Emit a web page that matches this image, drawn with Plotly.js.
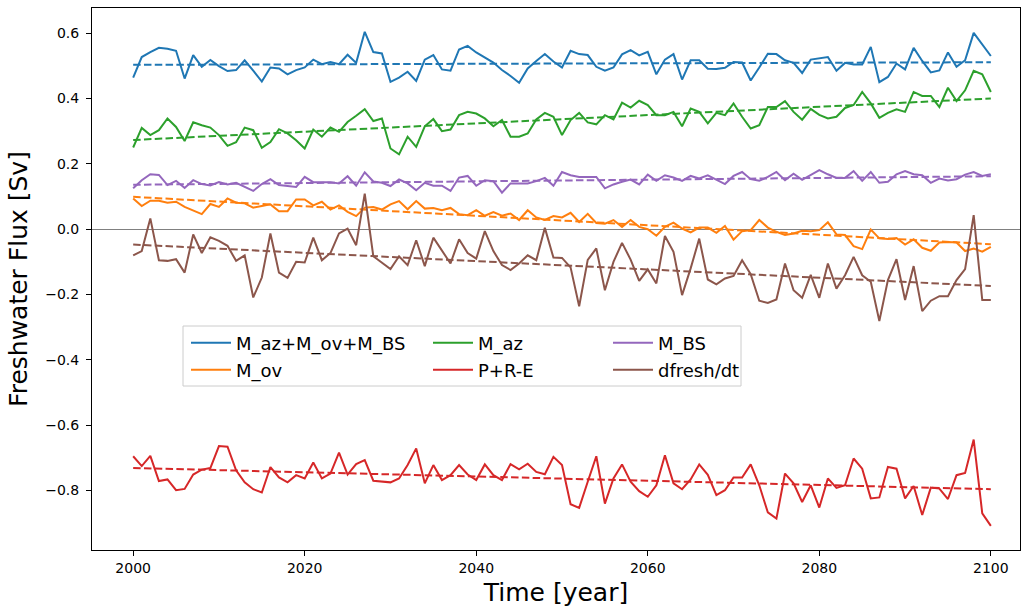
<!DOCTYPE html>
<html>
<head>
<meta charset="utf-8">
<script src="https://cdn.plot.ly/plotly-3.0.1.min.js"></script>
<style>html,body{margin:0;padding:0;background:#fff;}#chart{width:1024px;height:615px;}</style>
</head>
<body>
<div id="chart"></div>
<script>
// ---- data ----
const years = [2000,2001,2002,2003,2004,2005,2006,2007,2008,2009,
2010,2011,2012,2013,2014,2015,2016,2017,2018,2019,
2020,2021,2022,2023,2024,2025,2026,2027,2028,2029,
2030,2031,2032,2033,2034,2035,2036,2037,2038,2039,
2040,2041,2042,2043,2044,2045,2046,2047,2048,2049,
2050,2051,2052,2053,2054,2055,2056,2057,2058,2059,
2060,2061,2062,2063,2064,2065,2066,2067,2068,2069,
2070,2071,2072,2073,2074,2075,2076,2077,2078,2079,
2080,2081,2082,2083,2084,2085,2086,2087,2088,2089,
2090,2091,2092,2093,2094,2095,2096,2097,2098,2099,
2100];

const seriesNames = ["M_az+M_ov+M_BS", "M_ov", "M_az", "P+R-E", "M_BS", "dfresh/dt"];

const totalFlux = [0.464,0.527,0.542,0.555,0.552,0.546,0.461,0.533,0.497,0.518,
0.499,0.484,0.487,0.517,0.485,0.452,0.495,0.492,0.474,0.487,
0.495,0.519,0.505,0.512,0.505,0.534,0.509,0.604,0.542,0.538,
0.451,0.464,0.482,0.454,0.519,0.533,0.489,0.485,0.550,0.561,
0.541,0.526,0.510,0.487,0.469,0.448,0.492,0.515,0.536,0.513,
0.495,0.546,0.536,0.533,0.497,0.485,0.495,0.535,0.548,0.532,
0.543,0.474,0.519,0.536,0.458,0.517,0.517,0.491,0.490,0.494,
0.512,0.510,0.455,0.495,0.537,0.536,0.517,0.509,0.478,0.519,
0.523,0.527,0.485,0.509,0.504,0.504,0.558,0.450,0.466,0.507,
0.489,0.555,0.515,0.480,0.486,0.541,0.497,0.517,0.601,0.566,
0.530];

const mOv = [0.094,0.071,0.087,0.087,0.081,0.084,0.068,0.056,0.046,0.077,
0.068,0.094,0.081,0.079,0.066,0.071,0.076,0.055,0.055,0.091,
0.091,0.073,0.084,0.060,0.073,0.053,0.040,0.066,0.068,0.060,
0.076,0.086,0.061,0.086,0.063,0.065,0.058,0.065,0.046,0.043,
0.058,0.041,0.052,0.041,0.048,0.028,0.058,0.036,0.028,0.040,
0.036,0.050,0.022,0.047,0.019,0.017,0.028,0.007,0.028,0.007,
0.000,-0.020,0.007,0.020,0.002,-0.010,0.005,0.005,-0.011,0.010,
-0.032,-0.006,-0.003,0.028,0.005,-0.008,-0.018,-0.013,-0.005,-0.006,
-0.003,0.021,-0.016,-0.018,-0.052,-0.061,-0.001,-0.028,-0.030,-0.027,
-0.047,-0.031,-0.057,-0.066,-0.041,-0.039,-0.041,-0.067,-0.059,-0.069,
-0.054];

const mAz = [0.250,0.310,0.288,0.303,0.339,0.313,0.270,0.327,0.318,0.311,
0.288,0.255,0.266,0.311,0.303,0.249,0.267,0.306,0.293,0.272,
0.247,0.305,0.283,0.311,0.298,0.328,0.347,0.367,0.331,0.339,
0.247,0.229,0.283,0.252,0.315,0.337,0.300,0.305,0.349,0.359,
0.354,0.339,0.315,0.334,0.283,0.283,0.293,0.336,0.356,0.344,
0.288,0.334,0.356,0.327,0.321,0.349,0.336,0.387,0.372,0.393,
0.380,0.349,0.349,0.359,0.315,0.369,0.359,0.324,0.356,0.349,
0.385,0.344,0.308,0.318,0.374,0.374,0.392,0.359,0.335,0.368,
0.350,0.339,0.344,0.371,0.380,0.420,0.385,0.341,0.356,0.367,
0.359,0.420,0.408,0.408,0.374,0.433,0.392,0.425,0.485,0.474,
0.420];

const pre = [-0.695,-0.725,-0.694,-0.771,-0.766,-0.799,-0.795,-0.751,-0.736,-0.731,
-0.664,-0.666,-0.738,-0.775,-0.796,-0.806,-0.728,-0.760,-0.775,-0.753,
-0.763,-0.714,-0.763,-0.748,-0.684,-0.751,-0.719,-0.707,-0.770,-0.773,
-0.775,-0.763,-0.722,-0.671,-0.778,-0.722,-0.768,-0.753,-0.722,-0.751,
-0.768,-0.720,-0.753,-0.768,-0.719,-0.735,-0.718,-0.743,-0.750,-0.697,
-0.722,-0.842,-0.853,-0.773,-0.695,-0.840,-0.763,-0.720,-0.773,-0.802,
-0.819,-0.784,-0.692,-0.778,-0.796,-0.766,-0.720,-0.752,-0.814,-0.799,
-0.760,-0.760,-0.720,-0.784,-0.867,-0.886,-0.748,-0.778,-0.835,-0.784,
-0.852,-0.763,-0.792,-0.784,-0.702,-0.733,-0.824,-0.821,-0.728,-0.733,
-0.824,-0.786,-0.875,-0.791,-0.794,-0.826,-0.753,-0.746,-0.644,-0.870,
-0.908];

const mBs = [0.125,0.150,0.168,0.166,0.135,0.148,0.126,0.150,0.138,0.134,
0.144,0.137,0.142,0.129,0.117,0.138,0.153,0.135,0.132,0.129,
0.160,0.144,0.144,0.144,0.140,0.162,0.133,0.174,0.146,0.142,
0.132,0.152,0.140,0.119,0.142,0.133,0.133,0.117,0.158,0.163,
0.133,0.150,0.147,0.112,0.140,0.140,0.140,0.147,0.157,0.133,
0.175,0.165,0.160,0.160,0.160,0.125,0.137,0.145,0.152,0.137,
0.167,0.148,0.165,0.158,0.148,0.163,0.155,0.165,0.152,0.138,
0.163,0.175,0.153,0.148,0.160,0.175,0.150,0.170,0.151,0.165,
0.181,0.168,0.157,0.157,0.178,0.148,0.175,0.142,0.145,0.168,
0.178,0.168,0.165,0.142,0.155,0.149,0.153,0.167,0.175,0.163,
0.168];

const dfresh = [-0.080,-0.067,0.033,-0.095,-0.097,-0.092,-0.133,-0.016,-0.073,-0.025,
-0.036,-0.051,-0.097,-0.080,-0.209,-0.148,-0.013,-0.133,-0.149,-0.100,
-0.102,-0.026,-0.095,-0.073,-0.013,0.002,-0.049,0.109,-0.083,-0.103,
-0.122,-0.083,-0.110,-0.034,-0.113,-0.026,-0.066,-0.105,-0.031,-0.073,
-0.090,-0.006,-0.067,-0.110,-0.125,-0.105,-0.080,-0.095,0.004,-0.087,
-0.088,-0.117,-0.236,-0.094,-0.059,-0.187,-0.100,-0.042,-0.093,-0.158,
-0.123,-0.166,-0.021,-0.069,-0.202,-0.120,-0.029,-0.154,-0.169,-0.151,
-0.143,-0.095,-0.138,-0.219,-0.226,-0.215,-0.105,-0.187,-0.210,-0.140,
-0.210,-0.105,-0.182,-0.141,-0.085,-0.141,-0.161,-0.281,-0.156,-0.092,
-0.217,-0.113,-0.251,-0.219,-0.205,-0.205,-0.156,-0.122,0.043,-0.217,
-0.217];

// linear-trend end values (at first and last year)
const trendStart = [0.503, 0.099, 0.273, -0.731, 0.136, -0.047];
const trendEnd   = [0.511, -0.046, 0.400, -0.796, 0.162, -0.174];

const xTicks = [2000, 2020, 2040, 2060, 2080, 2100];
const yTicks = [-0.8, -0.6, -0.4, -0.2, 0.0, 0.2, 0.4, 0.6];

// ---- styling ----
const seriesValues = [totalFlux, mOv, mAz, pre, mBs, dfresh];
const colors = ["#1f77b4", "#ff7f0e", "#2ca02c", "#d62728", "#9467bd", "#8c564b"];
const legendIds = ["legend", "legend4", "legend2", "legend5", "legend3", "legend6"];
const FONT = "DejaVu Sans, Arial, sans-serif";

const traces = [];
seriesValues.forEach((vals, i) => {
  traces.push({
    x: years, y: vals, type: "scatter", mode: "lines",
    name: seriesNames[i], legend: legendIds[i],
    line: {color: colors[i], width: 2}, hoverinfo: "skip"
  });
  traces.push({
    x: [years[0], years[years.length - 1]], y: [trendStart[i], trendEnd[i]],
    type: "scatter", mode: "lines", showlegend: false,
    line: {color: colors[i], width: 2, dash: "7.5px,3.3px"}, hoverinfo: "skip"
  });
});

// plot-area pixel geometry
const L = 92, R = 1020, T = 8, B = 550;
const px = v => (v - L) / (R - L);
const py = v => (B - v) / (B - T);

function leg(xPix, yPix) {
  return {
    x: px(xPix), y: py(yPix), xanchor: "left", yanchor: "middle",
    bgcolor: "rgba(0,0,0,0)", borderwidth: 0, itemwidth: 40,
    font: {family: FONT, size: 18, color: "#000"}
  };
}

const layout = {
  width: 1024, height: 615,
  margin: {l: L, r: 1024 - R, t: T, b: 615 - B, pad: 0},
  paper_bgcolor: "#fff", plot_bgcolor: "#fff",
  font: {family: FONT, color: "#000"},
  xaxis: {
    range: [1995.2, 2103.4], tickvals: xTicks, ticks: "outside", ticklen: 5, tickwidth: 1,
    tickcolor: "#000", showline: true, mirror: true, linecolor: "#000", linewidth: 1,
    showgrid: false, zeroline: false, tickfont: {family: FONT, size: 14, color: "#000"},
    title: {text: "Time [year]", font: {family: FONT, size: 25, color: "#000"}, standoff: 8}
  },
  yaxis: {
    range: [-0.982, 0.677], tickvals: yTicks, tickformat: ".1f", ticks: "outside", ticklen: 5,
    tickwidth: 1, tickcolor: "#000", showline: true, mirror: true, linecolor: "#000", linewidth: 1,
    showgrid: false, zeroline: true, zerolinecolor: "#808080", zerolinewidth: 1,
    ticklabelstandoff: 4,
    tickfont: {family: FONT, size: 14, color: "#000"},
    title: {text: "Freshwater Flux [Sv]", font: {family: FONT, size: 25, color: "#000"}, standoff: 10}
  },
  showlegend: true,
  legend: leg(186, 343), legend2: leg(428, 343), legend3: leg(608, 343),
  legend4: leg(186, 370), legend5: leg(428, 370), legend6: leg(608, 370),
  shapes: [{
    type: "rect", xref: "paper", yref: "paper",
    x0: px(183), x1: px(741), y0: py(386), y1: py(326),
    line: {color: "#cccccc", width: 1}, fillcolor: "rgba(255,255,255,0.8)", layer: "above"
  }]
};

Plotly.newPlot("chart", traces, layout, {displayModeBar: false, staticPlot: true});
</script>
</body>
</html>
